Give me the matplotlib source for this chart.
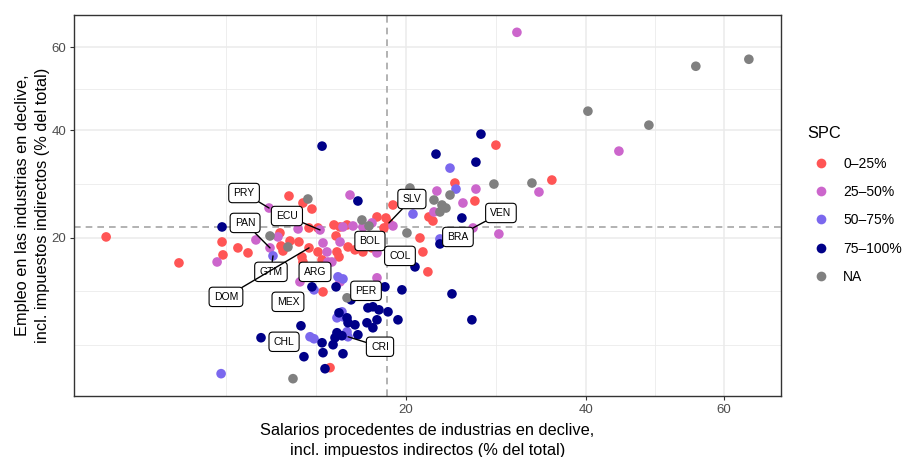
import numpy as np
import matplotlib.pyplot as plt
from matplotlib.lines import Line2D

plt.rcParams['font.family'] = ['Liberation Sans', 'DejaVu Sans']

# wage share (x) vs employment share (y) of declining industries, % of total
groups = ['0–25%', '25–50%', '50–75%', '75–100%', 'NA']
colors = ['#FF5555', '#CC66CC', '#7B68EE', '#000088', '#808080']

x_0_25 = [29.14, 35.69, 24.76, 26.85, 18.82, 22.17, 22.56, 18.20, 18.46, 21.31,
          21.59, 22.07, 13.92, 14.39, 14.94, 17.42, 18.03, 14.08, 15.02, 15.58,
          16.99, 14.15, 14.31, 10.68, 11.64, 12.28, 6.65, 6.70, 7.52, 8.10,
          10.08, 10.15, 10.28, 10.75, 11.36, 12.07, 12.07, 11.57, 11.64, 12.72,
          12.72, 13.02, 4.56, 1.92, 13.09, 13.62, 16.23]
y_0_25 = [36.78, 29.85, 29.29, 26.04, 25.34, 23.31, 22.65, 23.14, 22.33, 19.95,
          17.86, 15.08, 22.00, 21.68, 22.00, 23.31, 21.52, 20.26, 18.59, 18.16,
          18.45, 17.86, 17.14, 26.92, 25.69, 24.65, 19.34, 17.43, 18.45, 17.72,
          20.73, 18.74, 18.00, 19.49, 19.34, 21.52, 18.45, 17.14, 16.43, 21.52,
          17.86, 16.72, 16.30, 20.11, 12.52, 4.99, 17.86]

x_25_50 = [31.52, 44.41, 34.12, 26.96, 22.95, 25.59, 22.66, 18.82, 29.47, 26.65,
           15.18, 15.42, 16.23, 16.99, 14.39, 17.42, 13.76, 9.38, 6.39, 8.57,
           9.95, 9.44, 11.30, 12.87, 13.09, 13.39, 13.46, 11.43, 14.39, 17.42,
           14.62]
y_25_50 = [64.10, 35.54, 27.64, 28.18, 27.82, 25.69, 24.15, 21.84, 20.57, 21.52,
           27.10, 21.84, 21.68, 22.33, 19.34, 17.72, 16.43, 24.82, 16.43, 19.65,
           20.11, 18.45, 21.36, 21.20, 19.19, 17.86, 16.43, 13.77, 13.77, 14.29,
           21.68]

x_50_75 = [24.26, 24.87, 20.65, 23.25, 9.63, 12.43, 14.23, 14.62, 14.54, 14.15,
           14.62, 14.94, 15.02, 12.14, 12.43, 6.60]
y_50_75 = [32.14, 28.18, 23.80, 19.80, 17.29, 12.77, 14.42, 14.15, 10.21, 9.56,
           9.67, 8.13, 7.65, 7.65, 7.46, 4.54]

x_75_100 = [27.50, 22.86, 26.96, 25.48, 23.25, 20.84, 18.11, 19.63, 24.46, 17.59,
            18.38, 19.27, 26.53, 15.82, 6.65, 13.02, 12.28, 14.08, 15.26, 16.65,
            17.07, 14.31, 14.94, 15.02, 15.58, 16.57, 17.07, 17.42, 14.15, 14.54,
            14.00, 15.82, 13.85, 14.62, 11.50, 8.88, 13.02, 11.71, 13.09, 13.24]
y_75_100 = [39.11, 34.93, 33.32, 23.14, 19.04, 15.75, 13.14, 12.77, 12.28, 10.43,
            10.21, 9.35, 9.35, 26.04, 21.68, 36.57, 13.14, 13.14, 11.57, 10.65,
            10.77, 10.10, 9.56, 9.04, 8.83, 9.04, 8.53, 9.35, 8.04, 7.75,
            7.56, 7.84, 6.91, 6.12, 8.73, 7.56, 7.09, 5.87, 6.21, 4.91]

x_na = [55.59, 64.03, 40.26, 48.62, 33.28, 28.92, 20.37, 22.66, 24.26, 23.45,
        23.85, 23.25, 20.09, 16.15, 16.74, 11.99, 9.44, 10.61, 14.94, 10.95]
y_na = [55.09, 56.89, 44.21, 41.07, 29.29, 29.10, 28.37, 26.21, 27.10, 25.34,
        24.82, 24.15, 20.73, 22.81, 21.84, 26.39, 20.26, 18.59, 11.81, 4.18]

xs = [x_0_25, x_25_50, x_50_75, x_75_100, x_na]
ys = [y_0_25, y_25_50, y_50_75, y_75_100, y_na]

# labelled countries: point, label position
seg_codes = ['PRY', 'ECU', 'PAN', 'GTM', 'DOM', 'CRI', 'SLV', 'VEN']
seg_px = [9.38, 12.87, 9.44, 9.63, 12.07, 15.02, 18.46, 26.65]
seg_py = [24.82, 21.20, 18.45, 17.29, 18.45, 7.65, 22.33, 21.52]
seg_lx = [7.87, 10.54, 7.93, 9.50, 6.86, 17.68, 20.55, 29.70]
seg_ly = [27.46, 23.47, 22.33, 15.08, 11.92, 6.73, 26.39, 23.98]

plain_codes = ['ARG', 'MEX', 'CHL', 'PER', 'BOL', 'COL', 'BRA']
plain_lx = [12.50, 10.61, 10.35, 16.49, 16.82, 19.45, 25.07]
plain_ly = [15.08, 11.34, 7.18, 12.65, 19.49, 17.29, 20.11]

ref_x = 18.3
ref_y = 21.7
breaks = [20, 40, 60]

fig = plt.figure(figsize=(9.06, 4.57), dpi=100)
ax = fig.add_axes([74/906, 1-396/457, (781-74)/906, (396-15)/457])

fwd = lambda v: np.sqrt(np.clip(v, 0, None))
inv = lambda v: np.square(v)
ax.set_xscale('function', functions=(fwd, inv))
ax.set_yscale('function', functions=(fwd, inv))

# limits with 5% expansion in sqrt space
def sqrt_lims(vals):
    s = np.sqrt(np.concatenate([np.asarray(v) for v in vals]))
    pad = 0.05 * (s.max() - s.min())
    return (s.min() - pad) ** 2, (s.max() + pad) ** 2

ax.set_xlim(*sqrt_lims(xs))
ax.set_ylim(*sqrt_lims(ys))

# minor breaks halfway between majors in sqrt space
sb = np.sqrt(breaks)
step = sb[1] - sb[0]
ext = np.concatenate([[sb[0] - step], sb])
minor = [ext[0] ** 2] + [((a + b) / 2) ** 2 for a, b in zip(ext[:-1], ext[1:])]

for axis in (ax.xaxis, ax.yaxis):
    axis.set_major_locator(plt.FixedLocator(breaks))
    axis.set_minor_locator(plt.FixedLocator(minor))
    axis.set_major_formatter(plt.FuncFormatter(lambda v, p: f'{v:g}'))
    axis.set_minor_formatter(plt.NullFormatter())

ax.grid(which='major', color='#EBEBEB', lw=1.1, zorder=0)
ax.grid(which='minor', color='#EBEBEB', lw=0.6, zorder=0)
ax.set_axisbelow(True)
ax.tick_params(which='major', length=3, width=0.8, color='#333333',
               labelsize=9.5, labelcolor='#4D4D4D', pad=2.5)
ax.tick_params(which='minor', length=0)
for sp in ax.spines.values():
    sp.set_color('#333333')
    sp.set_linewidth(1.0)

ax.axvline(ref_x, color='#A6A6A6', lw=1.2, dashes=(4, 3), zorder=1)
ax.axhline(ref_y, color='#A6A6A6', lw=1.2, dashes=(4, 3), zorder=1)

for gx, gy, c in zip(xs, ys, colors):
    ax.scatter(gx, gy, s=48, color=c, edgecolors='none', zorder=2)

box = dict(boxstyle='round,pad=0.45,rounding_size=0.35', fc='white', ec='black', lw=0.8)
for code, px, py, lx, ly in zip(seg_codes, seg_px, seg_py, seg_lx, seg_ly):
    ax.annotate(code, xy=(px, py), xytext=(lx, ly), textcoords='data',
                ha='center', va='center', fontsize=7.5, bbox=box, zorder=4,
                arrowprops=dict(arrowstyle='-', color='black', lw=1.0,
                                shrinkA=0, shrinkB=0))
for code, lx, ly in zip(plain_codes, plain_lx, plain_ly):
    ax.text(lx, ly, code, ha='center', va='center', fontsize=7.5, bbox=box, zorder=4)

ax.set_xlabel('Salarios procedentes de industrias en declive,\nincl. impuestos indirectos (% del total)',
              fontsize=11.8, labelpad=5, linespacing=1.45)
ax.set_ylabel('Empleo en las industrias en declive,\nincl. impuestos indirectos (% del total)',
              fontsize=11.8, labelpad=1, linespacing=1.4)

handles = [Line2D([0], [0], marker='o', ls='', markersize=7, markerfacecolor=c,
                  markeredgecolor='none') for c in colors]
leg = fig.legend(handles, groups, title='SPC', loc='upper left',
                 bbox_to_anchor=(807/906, 1-126/457), frameon=False,
                 fontsize=10, title_fontsize=11.8, alignment='left',
                 handlelength=2.0, handletextpad=0.6, labelspacing=1.03,
                 borderpad=0, borderaxespad=0)
leg._legend_box.sep = 1.03 * 10 + 1

fig.savefig('out.png', dpi=100)
